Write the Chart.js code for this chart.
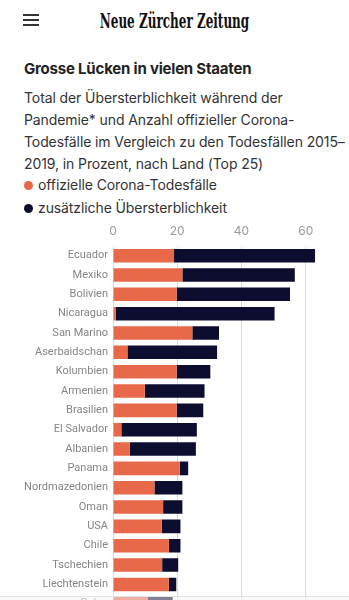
<!DOCTYPE html>
<html lang="de">
<head>
<meta charset="utf-8">
<script src="https://cdn.jsdelivr.net/npm/chart.js@4"></script>
<style>
  html, body { margin: 0; padding: 0; background: #fff; }
  body { width: 349px; height: 600px; overflow: hidden; position: relative; font-family: "Inter", "Roboto", sans-serif; }
  .burger { position: absolute; left: 23px; top: 14px; width: 16px; }
  .burger span { display: block; height: 1.5px; background: #333; margin-bottom: 3.5px; }
  .logo { position: absolute; left: 0; width: 349px; top: 9px; text-align: center; font-family: "DejaVu Serif", serif; font-weight: bold; font-size: 20px; color: #111; transform: scaleX(0.6); }
  h1 { position: absolute; left: 24px; top: 59px; margin: 0; font-size: 15px; font-weight: 700; color: #222; letter-spacing: -0.2px; white-space: nowrap; }
  .sub { position: absolute; left: 24px; top: 87px; margin: 0; font-size: 14px; line-height: 22px; color: #333; white-space: nowrap; letter-spacing: -0.1px; }
  .legend { position: absolute; left: 24px; font-size: 14px; color: #333; letter-spacing: -0.1px; }
  .legend i { display: inline-block; width: 9px; height: 9px; border-radius: 50%; margin-right: 5px; vertical-align: 0px; }
  #wrap { position: absolute; left: 0; top: 224px; width: 349px; height: 401px; }
  .unten { position: absolute; left: 0; top: 596px; width: 349px; height: 4px; border-top: 1px solid #e4e4e4; background: rgba(245,245,245,0.5); }
</style>
</head>
<body>
<div class="burger"><span></span><span></span><span></span></div>
<div class="logo">Neue Zürcher Zeitung</div>
<h1>Grosse Lücken in vielen Staaten</h1>
<p class="sub">Total der Übersterblichkeit während der<br>Pandemie* und Anzahl offizieller Corona-<br>Todesfälle im Vergleich zu den Todesfällen 2015–<br>2019, in Prozent, nach Land (Top 25)</p>
<div class="legend" style="top:176px"><i style="background:#e8694a"></i>offizielle Corona-Todesfälle</div>
<div class="legend" style="top:199px"><i style="background:#0d0d30"></i>zusätzliche Übersterblichkeit</div>
<div id="wrap"><canvas id="chart"></canvas></div>
<div class="unten"></div>
<script>
// Länder (Top 25, sichtbar sind die ersten 19)
const laender = ["Ecuador", "Mexiko", "Bolivien", "Nicaragua", "San Marino", "Aserbaidschan",
  "Kolumbien", "Armenien", "Brasilien", "El Salvador", "Albanien", "Panama", "Nordmazedonien",
  "Oman", "USA", "Chile", "Tschechien", "Liechtenstein", "Polen"];
// offizielle Corona-Todesfälle in % der Todesfälle 2015-2019
const offiziell = [19, 21.6, 19.8, 0.9, 24.7, 4.5, 19.8, 9.9, 19.8, 2.6, 5.2, 20.8, 12.9, 15.6, 15.2, 17.4, 15.3, 17.4, 10.9];
// Total der Übersterblichkeit in %
const total = [62.9, 56.6, 55.1, 50.3, 33, 32.4, 30.3, 28.5, 28.1, 26.1, 25.8, 23.4, 21.6, 21.6, 21, 21, 20.3, 19.7, 18.6];
const zusaetzlich = total.map((t, i) => Math.max(0, t - offiziell[i]));
const achsenTicks = [0, 20, 40, 60];

const ctx = document.getElementById("chart").getContext("2d");
new Chart(ctx, {
  type: "bar",
  data: {
    labels: laender,
    datasets: [
      { label: "offizielle Corona-Todesfälle", data: offiziell, backgroundColor: "#e8694a" },
      { label: "zusätzliche Übersterblichkeit", data: zusaetzlich, backgroundColor: "#0d0d30" },
    ],
  },
  options: {
    indexAxis: "y",
    responsive: true,
    maintainAspectRatio: false,
    animation: false,
    categoryPercentage: 1,
    barPercentage: 0.7,
    layout: { padding: { left: 0, right: 24, top: 0, bottom: 0 } },
    plugins: { legend: { display: false }, tooltip: { enabled: false } },
    scales: {
      x: {
        position: "top",
        stacked: true,
        min: 0,
        max: 66,
        afterBuildTicks: (axis) => { axis.ticks = achsenTicks.map(v => ({ value: v })); },
        afterFit: (axis) => { axis.height = 22; },
        grid: { color: "#dcdcdc", drawTicks: false },
        border: { display: false },
        ticks: { color: "#999", font: { family: "Inter", size: 12 }, padding: 7 },
      },
      y: {
        stacked: true,
        afterFit: (axis) => { axis.width = 113; },
        grid: { display: false, drawTicks: false },
        border: { display: false },
        ticks: { color: "#858585", font: { family: "Roboto", size: 11 }, padding: 5 },
      },
    },
  },
});
</script>
</body>
</html>
